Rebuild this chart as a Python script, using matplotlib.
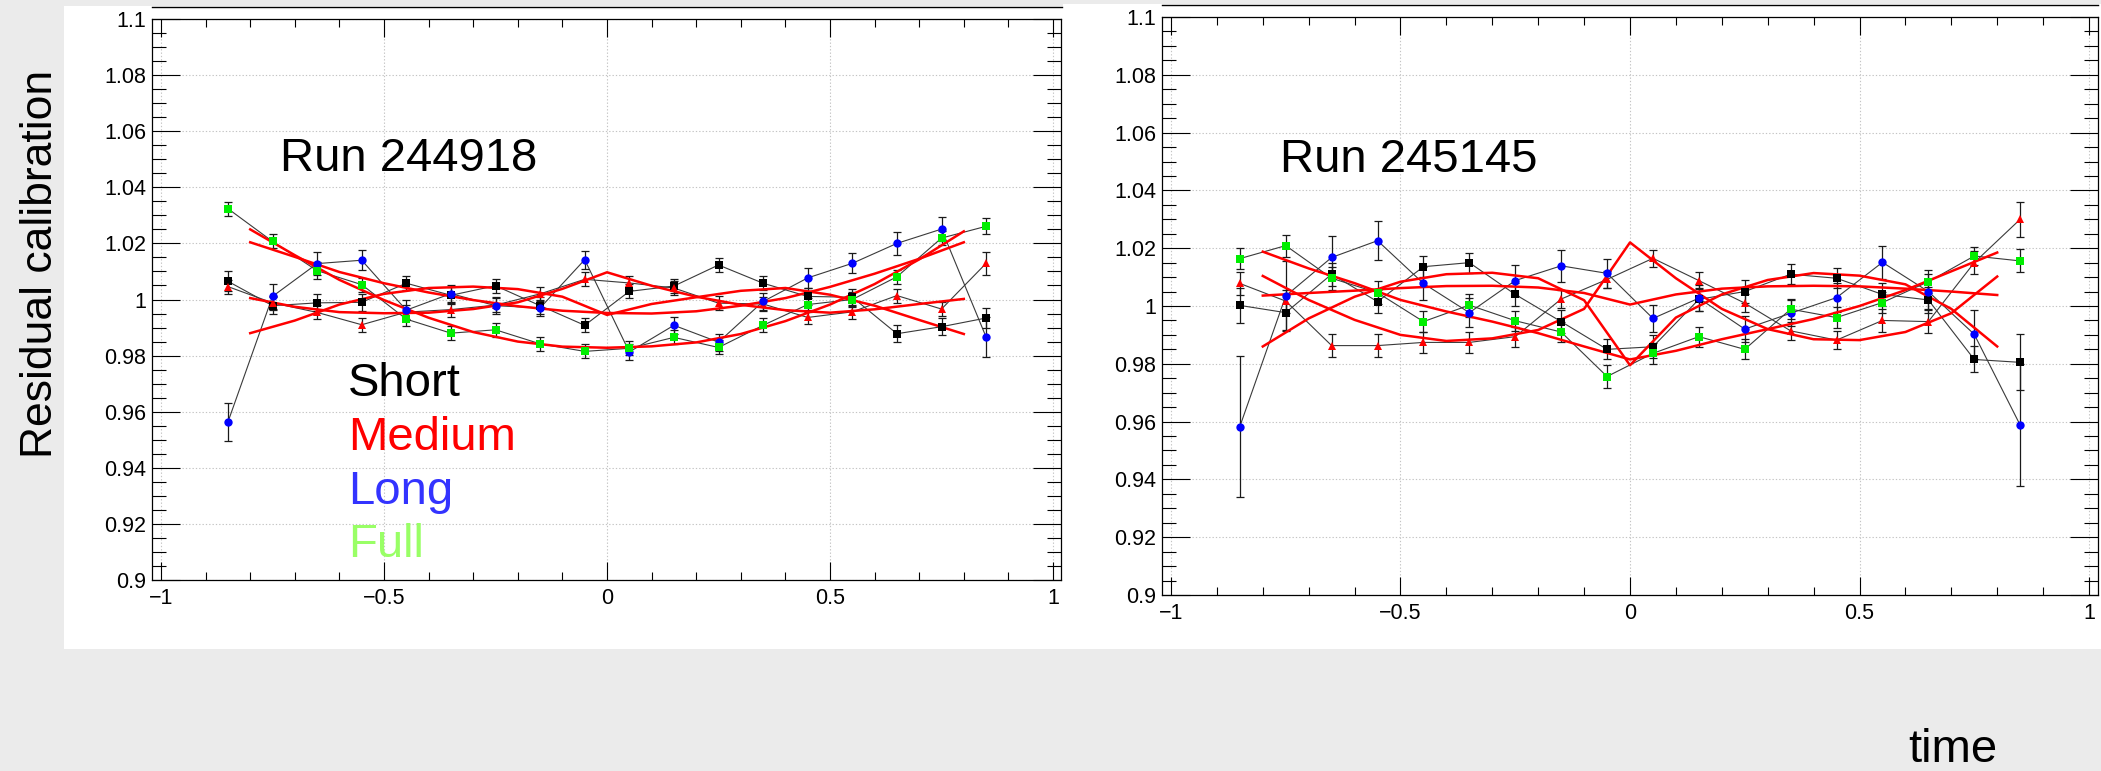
import matplotlib
matplotlib.use("Agg")
import matplotlib.pyplot as plt
from matplotlib.patches import Rectangle
from matplotlib.lines import Line2D
from matplotlib.ticker import MultipleLocator, FixedLocator, FixedFormatter

plt.rcParams['font.family'] = ['Liberation Sans', 'DejaVu Sans']

# ---------------- data ----------------
x_pts = [-0.85, -0.75, -0.65, -0.55, -0.45, -0.35, -0.25, -0.15, -0.05,
         0.05, 0.15, 0.25, 0.35, 0.45, 0.55, 0.65, 0.75, 0.85]

# Run 244918 (left)
l_short = [1.0065, 0.9978, 0.9988, 0.9990, 1.0058, 1.0015, 1.0049, 0.9978, 0.9908,
           1.0029, 1.0048, 1.0123, 1.0058, 1.0011, 1.0008, 0.9878, 0.9903, 0.9934]
l_short_err = [0.0035, 0.003, 0.003, 0.003, 0.0025, 0.003, 0.0025, 0.003, 0.0025,
               0.0025, 0.0025, 0.0025, 0.0025, 0.003, 0.003, 0.003, 0.003, 0.0035]
l_medium = [1.0046, 0.9988, 0.9954, 0.9910, 0.9955, 0.9964, 0.9980, 1.0020, 1.0072,
            1.0059, 1.0041, 0.9987, 0.9984, 0.9936, 0.9956, 1.0014, 0.9966, 1.0129]
l_medium_err = [0.0025, 0.0025, 0.0025, 0.0025, 0.0025, 0.0025, 0.0025, 0.0025, 0.0025,
                0.0025, 0.0025, 0.0025, 0.0025, 0.0025, 0.0025, 0.0025, 0.0025, 0.004]
l_long = [0.9563, 1.0011, 1.0128, 1.0140, 0.9962, 1.0021, 0.9978, 0.9970, 1.0142,
          0.9813, 0.9908, 0.9848, 0.9993, 1.0077, 1.0129, 1.0200, 1.0251, 0.9866]
l_long_err = [0.0068, 0.0045, 0.004, 0.0035, 0.0035, 0.003, 0.003, 0.003, 0.0032,
              0.003, 0.003, 0.003, 0.003, 0.0035, 0.0035, 0.004, 0.0043, 0.0072]
l_full = [1.0324, 1.0207, 1.0103, 1.0053, 0.9930, 0.9880, 0.9892, 0.9842, 0.9815,
          0.9826, 0.9865, 0.9829, 0.9908, 0.9982, 1.0000, 1.0081, 1.0219, 1.0261]
l_full_err = [0.0025, 0.0025, 0.003, 0.0025, 0.0025, 0.0025, 0.0025, 0.0025, 0.0025,
              0.0025, 0.0025, 0.0025, 0.0025, 0.0025, 0.0025, 0.0025, 0.0025, 0.0028]

# Run 245145 (right)
r_short = [1.0002, 0.9977, 1.0110, 1.0015, 1.0136, 1.0150, 1.0040, 0.9946, 0.9850,
           0.9859, 1.0023, 1.0050, 1.0110, 1.0096, 1.0040, 1.0021, 0.9815, 0.9805]
r_short_err = [0.006, 0.006, 0.004, 0.004, 0.0037, 0.0035, 0.004, 0.004, 0.0035,
               0.004, 0.004, 0.004, 0.0035, 0.0035, 0.004, 0.0045, 0.0045, 0.0097]
r_medium = [1.0078, 1.0017, 0.9863, 0.9863, 0.9874, 0.9874, 0.9894, 1.0024, 1.0092,
            1.0165, 1.0088, 1.0010, 0.9914, 0.9882, 0.9950, 0.9946, 1.0150, 1.0300]
r_medium_err = [0.004, 0.004, 0.004, 0.004, 0.0035, 0.0035, 0.0035, 0.003, 0.003,
                0.003, 0.003, 0.003, 0.003, 0.003, 0.004, 0.004, 0.004, 0.006]
r_long = [0.9583, 1.0035, 1.0168, 1.0226, 1.0078, 0.9977, 1.0088, 1.0139, 1.0113,
          0.9957, 1.0027, 0.9920, 0.9975, 1.0029, 1.0151, 1.0050, 0.9902, 0.9588]
r_long_err = [0.0244, 0.012, 0.0074, 0.0068, 0.0058, 0.005, 0.0055, 0.0055, 0.005,
              0.0046, 0.0045, 0.0045, 0.0045, 0.005, 0.0058, 0.006, 0.0085, 0.021]
r_full = [1.0164, 1.0209, 1.0096, 1.0046, 0.9946, 1.0003, 0.9949, 0.9910, 0.9756,
          0.9836, 0.9894, 0.9850, 0.9989, 0.9960, 1.0012, 1.0084, 1.0173, 1.0156]
r_full_err = [0.0037, 0.0038, 0.004, 0.004, 0.0035, 0.004, 0.0035, 0.0035, 0.004,
              0.0035, 0.0035, 0.0035, 0.0035, 0.0035, 0.0035, 0.004, 0.003, 0.004]

# fitted curves (red), read at x = -0.8 ... 0.8 step 0.1
fit_x = [-0.8, -0.7, -0.6, -0.5, -0.4, -0.3, -0.2, -0.1, 0.0,
         0.1, 0.2, 0.3, 0.4, 0.5, 0.6, 0.7, 0.8]
l_fit_1 = [1.0250, 1.0158, 1.0070, 0.9998, 0.9935, 0.9884, 0.9850, 0.9832, 0.9828,
           0.9833, 0.9847, 0.9877, 0.9923, 0.9982, 1.0055, 1.0143, 1.0243]
l_fit_2 = [1.0204, 1.0152, 1.0098, 1.0058, 1.0025, 0.9998, 0.9976, 0.9960, 0.9952,
           0.9950, 0.9958, 0.9978, 1.0005, 1.0045, 1.0092, 1.0145, 1.0204]
l_fit_3 = [1.0005, 0.9974, 0.9955, 0.9951, 0.9953, 0.9966, 0.9990, 1.0038, 1.0097,
           1.0049, 1.0010, 0.9981, 0.9962, 0.9953, 0.9965, 0.9984, 1.0002]
l_fit_4 = [0.9880, 0.9925, 0.9982, 1.0020, 1.0041, 1.0046, 1.0037, 1.0010, 0.9945,
           0.9984, 1.0008, 1.0031, 1.0041, 1.0017, 0.9978, 0.9927, 0.9877]

r_fit_1 = [1.0188, 1.0130, 1.0079, 1.0021, 0.9981, 0.9946, 0.9906, 0.9860, 0.9815,
           0.9845, 0.9885, 0.9920, 0.9955, 1.0000, 1.0055, 1.0120, 1.0185]
r_fit_2 = [1.0104, 1.0021, 0.9952, 0.9900, 0.9879, 0.9888, 0.9917, 0.9990, 1.0220,
           1.0096, 0.9990, 0.9920, 0.9885, 0.9882, 0.9910, 0.9975, 1.0102]
r_fit_3 = [1.0036, 1.0045, 1.0053, 1.0062, 1.0069, 1.0070, 1.0064, 1.0045, 1.0005,
           1.0040, 1.0060, 1.0068, 1.0070, 1.0068, 1.0060, 1.0050, 1.0038]
r_fit_4 = [0.9860, 0.9957, 1.0032, 1.0084, 1.0110, 1.0115, 1.0096, 1.0020, 0.9795,
           0.9960, 1.0040, 1.0090, 1.0114, 1.0105, 1.0075, 0.9990, 0.9860]

series_names = ["Short", "Medium", "Long", "Full"]
series_colors = ["#000000", "#ff0000", "#0000ff", "#00ee00"]
label_colors = ["#000000", "#ff0000", "#3333ff", "#99ff66"]
series_markers = ["s", "^", "o", "s"]
series_msize = [6.3, 5.4, 6.0, 6.3]

run_labels = ["Run 244918", "Run 245145"]
xtick_vals = [-1, -0.5, 0, 0.5, 1]
xtick_labels = ["\u22121", "\u22120.5", "0", "0.5", "1"]
ytick_vals = [0.9, 0.92, 0.94, 0.96, 0.98, 1.0, 1.02, 1.04, 1.06, 1.08, 1.1]
ytick_labels = ["0.9", "0.92", "0.94", "0.96", "0.98", "1", "1.02", "1.04", "1.06", "1.08", "1.1"]
y_title = "Residual calibration"
x_title = "time"

# ---------------- layout ----------------
W, H = 2101, 771
fig = plt.figure(figsize=(W / 100, H / 100), dpi=100, facecolor="#ebebeb")


def rect_px(x0, y0, x1, y1):
    return [x0 / W, 1 - y1 / H, (x1 - x0) / W, (y1 - y0) / H]


# white pads (behind everything)
for (x0, y0, x1, y1) in [(64, 6, 1063, 649), (1063, 4, 2101, 649)]:
    r = rect_px(x0, y0, x1, y1)
    fig.patches.append(Rectangle((r[0], r[1]), r[2], r[3], transform=fig.transFigure,
                                 facecolor="white", edgecolor="none", zorder=-10))

# black lines at top of pads
for (x0, x1, y) in [(152, 1062, 7), (1162, 2098, 5)]:
    fig.add_artist(Line2D([x0 / W, x1 / W], [1 - y / H, 1 - y / H], color="black",
                          lw=1.0, transform=fig.transFigure))

panels = [
    dict(rect=(152, 19, 1061, 580), xlim=(-1.0202, 1.0179),
         data=[(l_short, l_short_err), (l_medium, l_medium_err), (l_long, l_long_err), (l_full, l_full_err)],
         fits=[l_fit_1, l_fit_2, l_fit_3, l_fit_4], run=run_labels[0], run_px=(280, 171),
         legend=True),
    dict(rect=(1162, 17, 2098, 595), xlim=(-1.0196, 1.0196),
         data=[(r_short, r_short_err), (r_medium, r_medium_err), (r_long, r_long_err), (r_full, r_full_err)],
         fits=[r_fit_1, r_fit_2, r_fit_3, r_fit_4], run=run_labels[1], run_px=(1280, 172),
         legend=False),
]

BIG = 34

for p in panels:
    x0, y0, x1, y1 = p["rect"]
    ax = fig.add_axes(rect_px(x0, y0, x1, y1))
    ax.set_zorder(1)
    ax.set_facecolor("white")
    ax.set_xlim(*p["xlim"])
    ax.set_ylim(0.9, 1.1)

    ax.set_axisbelow(True)
    ax.xaxis.set_major_locator(FixedLocator(xtick_vals))
    ax.xaxis.set_major_formatter(FixedFormatter(xtick_labels))
    ax.xaxis.set_minor_locator(MultipleLocator(0.1))
    ax.yaxis.set_major_locator(FixedLocator(ytick_vals))
    ax.yaxis.set_major_formatter(FixedFormatter(ytick_labels))
    ax.yaxis.set_minor_locator(MultipleLocator(0.005))
    ax.grid(True, which="major", color="#c4c4c4", linestyle=(0, (1.2, 1.8)), lw=0.8)

    ax.tick_params(axis="both", which="both", direction="in", top=True, right=True,
                   width=0.8, color="black", labelsize=15.5, labelcolor="black")
    ax.tick_params(axis="x", which="major", length=13, pad=6)
    ax.tick_params(axis="x", which="minor", length=5.8)
    ax.tick_params(axis="y", which="major", length=20, pad=4)
    ax.tick_params(axis="y", which="minor", length=10)
    for s in ax.spines.values():
        s.set_linewidth(0.9)
        s.set_color("black")

    for (vals, errs), col, mk, ms in zip(p["data"], series_colors, series_markers, series_msize):
        ax.plot(x_pts, vals, color="#3a3a3a", lw=0.8, zorder=2)
        ax.errorbar(x_pts, vals, yerr=errs, fmt="none", ecolor="#1a1a1a", elinewidth=0.9,
                    capsize=2.6, capthick=0.9, zorder=3)
    for fit in p["fits"]:
        ax.plot(fit_x, fit, color="#ff0000", lw=1.8, zorder=4, solid_joinstyle="round")
    for (vals, errs), col, mk, ms in zip(p["data"], series_colors, series_markers, series_msize):
        ax.plot(x_pts, vals, linestyle="none", marker=mk, markersize=ms, color=col,
                markeredgewidth=0, zorder=5)

    rx, ry = p["run_px"]
    fig.text(rx / W, 1 - ry / H, p["run"], fontsize=BIG, ha="left", va="baseline",
             color="black", zorder=5)

    if p["legend"]:
        for name, col, by in zip(series_names, label_colors, [396, 450, 504, 557]):
            fig.text(348 / W, 1 - by / H, name, fontsize=BIG, ha="left", va="baseline",
                     color=col, zorder=5)

fig.text(41 / W, 1 - 264 / H, y_title, fontsize=32, rotation=90, ha="center", va="center")
fig.text(1953 / W, 1 - 762 / H, x_title, fontsize=BIG, ha="center", va="baseline")

fig.savefig("out.png", dpi=100, facecolor=fig.get_facecolor())
